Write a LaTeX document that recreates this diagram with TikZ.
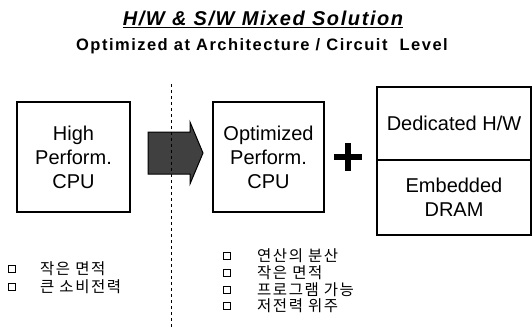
\documentclass[tikz,border=0pt]{standalone}
\usepackage{fontspec}
\setmainfont{Liberation Sans}
\newfontfamily\headfont[LetterSpace=8]{Liberation Sans}
\newfontfamily\subfont[LetterSpace=9]{Liberation Sans}
\newfontfamily\krfont[LetterSpace=10]{Noto Sans CJK KR}
\usetikzlibrary{positioning}

\begin{document}
\begin{tikzpicture}[
  x=1pt, y=-1pt,
  box/.style={draw, line width=2pt, align=center, inner sep=0pt, font=\fontsize{20}{24}\selectfont},
  tick/.style={draw, line width=1.3pt, minimum size=7pt, inner sep=0pt},
  note/.style={font=\krfont\fontsize{15.5}{17}\selectfont, inner sep=0pt, anchor=west}
]
\useasboundingbox (0,0) rectangle (532,327);

% headings
\node[font=\headfont\bfseries\itshape\fontsize{20}{22}\selectfont] (title) at (263,19) {\underline{H/W \& S/W Mixed Solution}};
\node[font=\subfont\bfseries\fontsize{16.5}{18}\selectfont] (subtitle) at (262,46) {Optimized at Architecture / Circuit \ Level};

% before: the plain CPU
\node[box, minimum width=113pt, minimum height=110pt] (cpu) at (73.5,157) {High\\Perform.\\CPU};

% divider and the fat arrow across it
\coordinate (divtop) at (171,84);
\coordinate (divbot) at (171,327);
\coordinate (go) at (175.5,153);
\filldraw[fill=black!75, line width=1pt]
  ([shift={(-27.5,-21)}]go) -- ([shift={(14.5,-21)}]go) -- ([shift={(14.5,-31)}]go)
  -- ([shift={(27.5,0)}]go) -- ([shift={(14.5,31)}]go) -- ([shift={(14.5,21)}]go)
  -- ([shift={(-27.5,21)}]go) -- cycle;
\draw[dashed, line width=1pt] (divtop) -- (divbot);

% after: optimized CPU plus dedicated blocks
\node[box, minimum width=111pt, minimum height=110pt] (optcpu) at (268.5,157) {Optimized\\Perform.\\CPU};
\coordinate (plus) at (348,157);
\draw[line width=6pt] ([xshift=-14pt]plus) -- ([xshift=14pt]plus);
\draw[line width=6pt] ([yshift=-14pt]plus) -- ([yshift=14pt]plus);
\node[box, minimum width=154pt, minimum height=73pt] (hw) at (454,123.5) {Dedicated H/W};
\node[box, minimum width=154pt, minimum height=75pt] (dram) at (454,197.5) {Embedded\\DRAM};

% notes under each side
\node[tick] (l1) at (12,269) {};
\node[tick] (l2) at (12,287) {};
\node[note] (lt1) at (40,269) {작은 면적};
\node[note] (lt2) at (40,287) {큰 소비전력};

\node[tick] (r1) at (227,256) {};
\node[tick] (r2) at (227,273) {};
\node[tick] (r3) at (227,290) {};
\node[tick] (r4) at (227,306) {};
\node[note] (rt1) at (257,256) {연산의 분산};
\node[note] (rt2) at (257,273) {작은 면적};
\node[note] (rt3) at (257,290) {프로그램 가능};
\node[note] (rt4) at (257,306) {저전력 위주};
\end{tikzpicture}
\end{document}
